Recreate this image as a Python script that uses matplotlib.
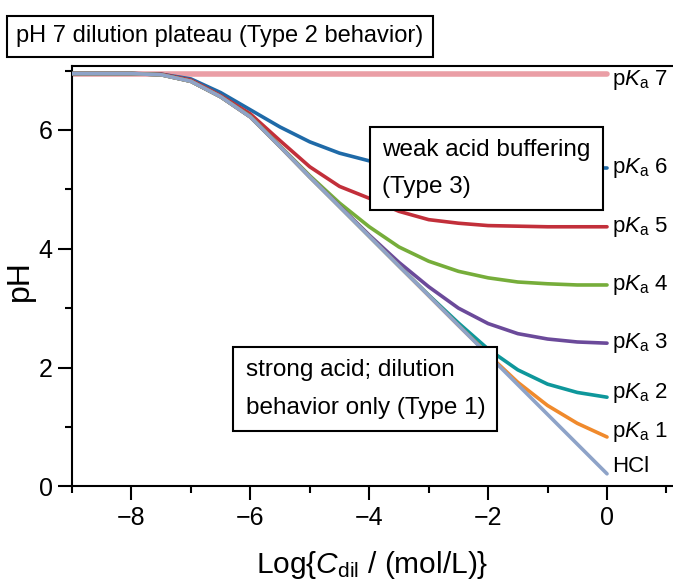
import numpy as np
import matplotlib
matplotlib.use("Agg")
import matplotlib.pyplot as plt
from matplotlib.ticker import MultipleLocator

plt.rcParams['font.family'] = ['Liberation Sans', 'DejaVu Sans']
plt.rcParams['mathtext.fontset'] = 'custom'
plt.rcParams['mathtext.rm'] = 'Liberation Sans'
plt.rcParams['mathtext.it'] = 'Liberation Sans:italic'

# log C values where the curves were read
logc = [-9, -8, -7.5, -7, -6.5, -6, -5.5, -5, -4.5, -4, -3.5, -3, -2.5, -2, -1.5, -1, -0.5, 0]

ph_pka7 = [6.95] * 18
ph_pka6 = [6.95, 6.95, 6.94, 6.86, 6.63, 6.34, 6.05, 5.80, 5.61, 5.48, 5.42, 5.39, 5.38, 5.37, 5.37, 5.36, 5.36, 5.36]
ph_pka5 = [6.95, 6.95, 6.94, 6.84, 6.58, 6.27, 5.82, 5.38, 5.05, 4.85, 4.63, 4.49, 4.43, 4.39, 4.38, 4.37, 4.37, 4.37]
ph_pka4 = [6.95, 6.95, 6.93, 6.82, 6.56, 6.23, 5.73, 5.23, 4.77, 4.37, 4.03, 3.79, 3.62, 3.51, 3.44, 3.41, 3.39, 3.39]
ph_pka3 = [6.95, 6.95, 6.93, 6.82, 6.56, 6.22, 5.72, 5.21, 4.72, 4.23, 3.77, 3.36, 3.00, 2.74, 2.57, 2.48, 2.43, 2.41]
ph_pka2 = [6.95, 6.95, 6.93, 6.82, 6.56, 6.22, 5.72, 5.21, 4.71, 4.21, 3.71, 3.22, 2.75, 2.31, 1.96, 1.72, 1.58, 1.50]
ph_pka1 = [6.95, 6.95, 6.93, 6.82, 6.56, 6.22, 5.72, 5.21, 4.71, 4.21, 3.71, 3.21, 2.71, 2.22, 1.75, 1.36, 1.06, 0.83]
ph_hcl = [6.95, 6.95, 6.93, 6.82, 6.56, 6.22, 5.72, 5.21, 4.71, 4.21, 3.71, 3.21, 2.71, 2.21, 1.71, 1.21, 0.71, 0.21]

names = ["p$K_\\mathrm{a}$ 7", "p$K_\\mathrm{a}$ 6", "p$K_\\mathrm{a}$ 5", "p$K_\\mathrm{a}$ 4",
         "p$K_\\mathrm{a}$ 3", "p$K_\\mathrm{a}$ 2", "p$K_\\mathrm{a}$ 1", "HCl"]
curves = [ph_pka7, ph_pka6, ph_pka5, ph_pka4, ph_pka3, ph_pka2, ph_pka1, ph_hcl]
colors = ["#e8949c", "#1f6aa8", "#c22f3a", "#76ad3a", "#6b4a9a", "#0e979b", "#f08a2c", "#8ea3c8"]
label_y = [6.85, 5.36, 4.37, 3.39, 2.41, 1.57, 0.91, 0.33]

fig = plt.figure(figsize=(6.73, 5.88), dpi=100)
ax = fig.add_axes([0.107, 0.173, 0.893, 0.715])

for i in range(len(curves)):
    lw = 2.6
    a = 1.0
    if i == 0:
        lw = 4.0
        a = 0.9
    ax.plot(logc, curves[i], color=colors[i], lw=lw, alpha=a, solid_capstyle='round',
            solid_joinstyle='round', zorder=2 + i)
    ax.text(0.08, label_y[i], names[i], fontsize=16, va='center', ha='left', zorder=20)

ax.set_xlim(-9, 1.11)
ax.set_ylim(0, 7.08)
ax.xaxis.set_major_locator(MultipleLocator(2))
ax.xaxis.set_minor_locator(MultipleLocator(1))
ax.yaxis.set_major_locator(MultipleLocator(2))
ax.yaxis.set_minor_locator(MultipleLocator(1))
ax.tick_params(which='major', direction='out', length=10, width=1.5, labelsize=18, pad=4)
ax.tick_params(which='minor', direction='out', length=5, width=1.5)
ax.spines['right'].set_visible(False)
for s in ['left', 'bottom', 'top']:
    ax.spines[s].set_linewidth(1.5)

ax.set_xlabel("Log{$C_\\mathrm{dil}$ / (mol/L)}", fontsize=21.5, labelpad=14)
ax.set_ylabel("pH", fontsize=23)
ax.yaxis.set_label_coords(-0.062, 0.49)

box = dict(boxstyle='square,pad=0.5', facecolor='white', edgecolor='black', linewidth=1.5)
ax.text(-3.78, 5.35, "weak acid buffering\n(Type 3)", fontsize=17.5, va='center', ha='left',
        bbox=box, zorder=30, linespacing=1.9)
ax.text(-6.08, 1.64, "strong acid; dilution\nbehavior only (Type 1)", fontsize=17.5, va='center', ha='left',
        bbox=box, zorder=30, linespacing=1.9)

fig.text(0.024, 0.938, "pH 7 dilution plateau (Type 2 behavior)", fontsize=17, va='center', ha='left',
         bbox=dict(boxstyle='square,pad=0.4', facecolor='white', edgecolor='black', linewidth=1.5))

fig.savefig("out.png", dpi=100)
